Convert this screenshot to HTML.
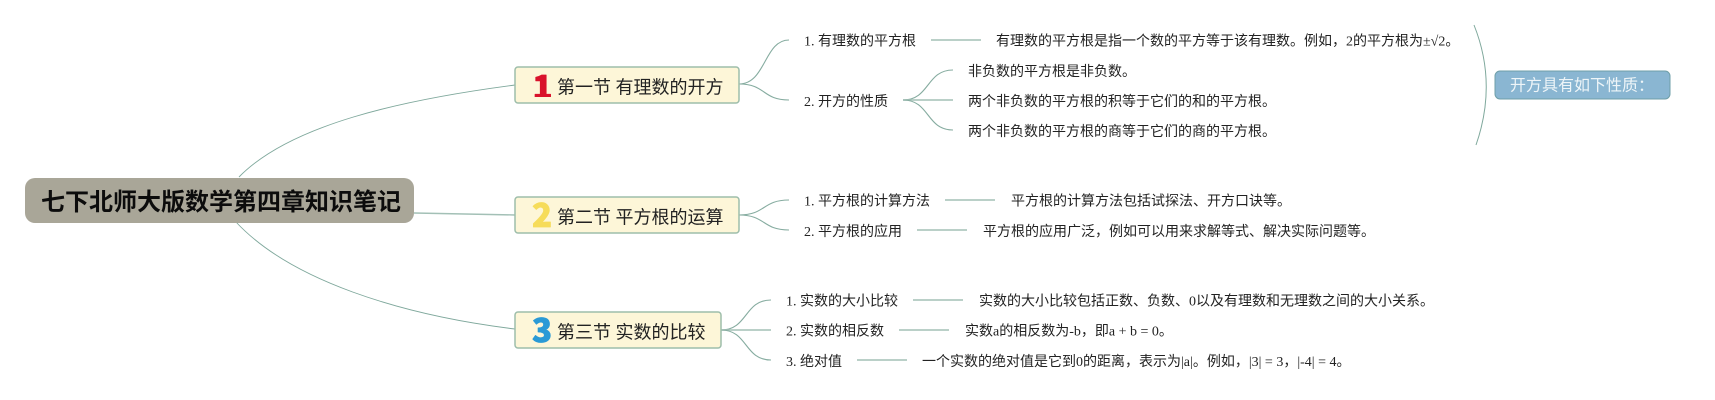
<!DOCTYPE html>
<html><head><meta charset="utf-8">
<style>
html,body{margin:0;padding:0;background:#fff;width:1715px;height:400px;overflow:hidden}
svg{display:block}
text{font-family:"Liberation Serif","Noto Sans CJK SC",sans-serif;fill:#222;dominant-baseline:central}
.c{font-size:14px}
.s{font-size:18px}
.l{fill:none;stroke:#86aca0;stroke-width:1.1}
.r{fill:none;stroke:#7fa89c;stroke-width:.9}
.t{fill:none;stroke:#a3c0b6;stroke-width:1.4}
.n{font-family:"Noto Sans CJK SC",sans-serif;font-weight:900;font-size:33px;text-anchor:middle;stroke-width:.8;stroke-linejoin:round}
</style></head><body>
<svg width="1715" height="400" viewBox="0 0 1715 400" xmlns="http://www.w3.org/2000/svg">
<defs><clipPath id="one"><rect x="530" y="68" width="26" height="29"/></clipPath></defs>
<!-- root connectors -->
<path class="r" d="M239 177C290 125 400 100 515 85"/>
<path class="t" d="M414 213L515 215"/>
<path class="r" d="M236 222C290 280 400 315 515 329"/>
<!-- section 1 connectors -->
<path class="l" d="M739 84C766 84 764 40 789 40"/>
<path class="l" d="M739 84C766 84 762 100 789 100"/>
<line class="t" x1="931" y1="40" x2="981" y2="40"/>
<path class="l" d="M903 100C930 100 926 70 953 70"/>
<path class="t" d="M903 100H953"/>
<path class="l" d="M903 100C930 100 926 130 953 130"/>
<!-- section 2 connectors -->
<path class="l" d="M739 215C766 215 762 200 789 200"/>
<path class="l" d="M739 215C766 215 762 230 789 230"/>
<line class="t" x1="945" y1="200" x2="995" y2="200"/>
<line class="t" x1="917" y1="230" x2="967" y2="230"/>
<!-- section 3 connectors -->
<path class="l" d="M721 330C748 330 744 300 771 300"/>
<path class="t" d="M721 330H771"/>
<path class="l" d="M721 330C748 330 744 360 771 360"/>
<line class="t" x1="913" y1="300" x2="963" y2="300"/>
<line class="t" x1="899" y1="330" x2="949" y2="330"/>
<line class="t" x1="857" y1="360" x2="907" y2="360"/>
<!-- summary bracket -->
<path d="M1474 25C1490 65 1490 105 1476 145" fill="none" stroke="#7fa89c" stroke-width="1"/>
<!-- root -->
<rect x="25" y="178" width="389" height="45" rx="10" fill="#a9a698"/>
<text x="41" y="203" font-size="24" font-weight="bold" style="fill:#0c0c0c">七下北师大版数学第四章知识笔记</text>
<!-- section boxes -->
<rect x="515" y="67" width="224" height="36" rx="3" fill="#fdf6d8" stroke="#9dbdaa" stroke-width="1.5"/>
<text class="n" x="542.5" y="85" clip-path="url(#one)" style="fill:#d9122b;stroke:#d9122b">1</text>
<text class="s" x="557" y="87.5">第一节 有理数的开方</text>
<rect x="515" y="197" width="224" height="36" rx="3" fill="#fdf6d8" stroke="#9dbdaa" stroke-width="1.5"/>
<text class="n" x="542" y="213" style="fill:#f6dc5a;stroke:#f6dc5a">2</text>
<text class="s" x="557" y="217.5">第二节 平方根的运算</text>
<rect x="515" y="312" width="206" height="36" rx="3" fill="#fdf6d8" stroke="#9dbdaa" stroke-width="1.5"/>
<text class="n" x="542" y="328" style="fill:#2a9ad6;stroke:#2a9ad6">3</text>
<text class="s" x="557" y="332.5">第三节 实数的比较</text>
<!-- section 1 text -->
<text class="c" x="804" y="42">1. 有理数的平方根</text>
<text class="c" x="996" y="42">有理数的平方根是指一个数的平方等于该有理数。例如，2的平方根为±√2。</text>
<text class="c" x="804" y="102.5">2. 开方的性质</text>
<text class="c" x="968" y="72.5">非负数的平方根是非负数。</text>
<text class="c" x="968" y="102.5">两个非负数的平方根的积等于它们的和的平方根。</text>
<text class="c" x="968" y="132.5">两个非负数的平方根的商等于它们的商的平方根。</text>
<!-- section 2 text -->
<text class="c" x="804" y="202">1. 平方根的计算方法</text>
<text class="c" x="1011" y="202">平方根的计算方法包括试探法、开方口诀等。</text>
<text class="c" x="804" y="232.5">2. 平方根的应用</text>
<text class="c" x="983" y="232.5">平方根的应用广泛，例如可以用来求解等式、解决实际问题等。</text>
<!-- section 3 text -->
<text class="c" x="786" y="302">1. 实数的大小比较</text>
<text class="c" x="979" y="302">实数的大小比较包括正数、负数、0以及有理数和无理数之间的大小关系。</text>
<text class="c" x="786" y="332">2. 实数的相反数</text>
<text class="c" x="965" y="332">实数a的相反数为-b，即a + b = 0。</text>
<text class="c" x="786" y="362.5">3. 绝对值</text>
<text class="c" x="922" y="362.5">一个实数的绝对值是它到0的距离，表示为|a|。例如，|3| = 3，|-4| = 4。</text>
<!-- summary box -->
<rect x="1495" y="71" width="175" height="28" rx="5" fill="#8ab6d2" stroke="#6f9fa8" stroke-width="1"/>
<text x="1510" y="86" font-size="16" style="fill:#eef5f8">开方具有如下性质：</text>
</svg>
</body></html>
